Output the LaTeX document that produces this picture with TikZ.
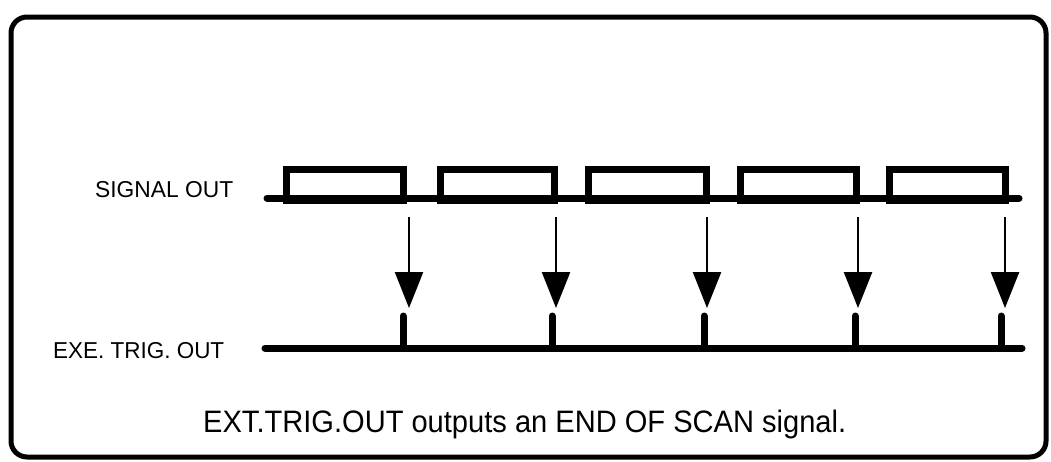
\documentclass[tikz,border=0pt]{standalone}
\usepackage{graphicx}
\usepackage{fontspec}
\setmainfont{Liberation Sans}
\usetikzlibrary{arrows.meta}
\tikzset{
  frame/.style={line width=5pt, rounded corners=16pt},
  sigline/.style={line width=7pt, line cap=round},
  pulse/.style={line width=7pt},
  tick/.style={line width=7pt, line cap=round},
  trigarrow/.style={line width=2.5pt, -{Triangle[width=28pt,length=36pt]}},
  lbl/.style={inner sep=0pt, anchor=base west, font=\fontsize{23}{27}\selectfont},
  caption/.style={inner sep=0pt, anchor=base west, font=\fontsize{31}{36}\selectfont}
}
\begin{document}
\begin{tikzpicture}[x=1pt,y=-1pt]
\useasboundingbox (0,0) rectangle (1051,461);
\fill[white] (0,0) rectangle (1051,461);
% frame
\draw[frame] (11,17) rectangle (1046,457);
% labels
\node[lbl] (sig) at (95,197) {\resizebox{138pt}{\height}{SIGNAL OUT}};
\node[lbl] (trig) at (53,358) {\resizebox{171pt}{\height}{EXE. TRIG. OUT}};
\node[caption] (cap) at (203,432) {\resizebox{643pt}{\height}{EXT.TRIG.OUT outputs an END OF SCAN signal.}};
% signal out line
\coordinate (s0) at (267,198);
\coordinate (s1) at (1019,198);
\draw[sigline] (s0) -- (s1);
\foreach \a/\b in {286.5/403.5, 440.5/554.5, 588.5/706.5, 740.5/856.5, 889.5/1005.5}{
  \draw[pulse] (\a,169) rectangle (\b,200);
}
% trig out line
\coordinate (t0) at (265,348);
\coordinate (t1) at (1022,348);
\draw[sigline] (t0) -- (t1);
% arrows and ticks
\foreach \i/\ax/\tx in {1/409/403, 2/556/552, 3/707/704, 4/858/855, 5/1005/1001}{
  \coordinate (a\i) at (\ax,217);
  \coordinate (h\i) at (\ax,308);
  \draw[trigarrow] (a\i) -- (h\i);
  \coordinate (k\i) at (\tx,316);
  \coordinate (b\i) at (\tx,348);
  \draw[tick] (k\i) -- (b\i);
}
\end{tikzpicture}
\end{document}
